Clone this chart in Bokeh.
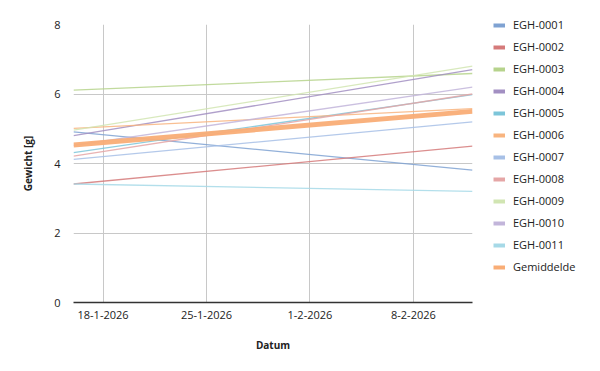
from datetime import datetime
from bokeh.plotting import figure
from bokeh.models import Range1d, FixedTicker, Legend, LegendItem
from bokeh.embed import file_html
from bokeh.resources import INLINE

# ---- data ----
dates = [datetime(2026, 1, 16), datetime(2026, 2, 12)]
series_names = ["EGH-0001", "EGH-0002", "EGH-0003", "EGH-0004", "EGH-0005", "EGH-0006",
                "EGH-0007", "EGH-0008", "EGH-0009", "EGH-0010", "EGH-0011"]
egh_0001 = [4.91, 3.81]
egh_0002 = [3.41, 4.50]
egh_0003 = [6.11, 6.59]
egh_0004 = [4.80, 6.70]
egh_0005 = [4.31, 5.98]
egh_0006 = [5.01, 5.58]
egh_0007 = [4.12, 5.20]
egh_0008 = [4.21, 6.00]
egh_0009 = [4.96, 6.80]
egh_0010 = [4.52, 6.20]
egh_0011 = [3.41, 3.20]
gemiddelde = [4.53, 5.50]

tick_dates = [datetime(2026, 1, 18), datetime(2026, 1, 25), datetime(2026, 2, 1), datetime(2026, 2, 8)]
tick_labels = ["18-1-2026", "25-1-2026", "1-2-2026", "8-2-2026"]
y_ticks = [0, 2, 4, 6, 8]

all_series = [egh_0001, egh_0002, egh_0003, egh_0004, egh_0005, egh_0006,
              egh_0007, egh_0008, egh_0009, egh_0010, egh_0011]
colors = ["#7fa2d2", "#d57a7a", "#b6d38c", "#a28fc2", "#7cc5d9", "#f8b47f",
          "#a7c0e6", "#e5a6a6", "#d1e5b2", "#c2b5da", "#a6d9e7"]
avg_color = "#f9ad76"

FONT = "Open Sans"

def ms(d):
    return (d - datetime(1970, 1, 1)).total_seconds() * 1000.0

p = figure(x_axis_type="datetime", output_backend="svg", toolbar_location=None,
           frame_width=399, frame_height=278,
           min_border_left=73, min_border_right=120, min_border_top=24, min_border_bottom=60,
           x_range=Range1d(dates[0], dates[-1]), y_range=Range1d(0, 8))
p.outline_line_color = None
p.background_fill_color = "white"

items = []
for name, vals, col in zip(series_names, all_series, colors):
    p.line(dates, vals, line_color=col, line_width=1.3, line_alpha=0.85)
    dummy = p.line([dates[0]], [float("nan")], line_color=col, line_width=4)
    items.append(LegendItem(label=name, renderers=[dummy]))
p.line(dates, gemiddelde, line_color=avg_color, line_width=5, line_alpha=0.95)
dummy = p.line([dates[0]], [float("nan")], line_color=avg_color, line_width=4)
items.append(LegendItem(label="Gemiddelde", renderers=[dummy]))

# axes
p.xaxis.ticker = FixedTicker(ticks=[ms(d) for d in tick_dates])
p.xaxis.major_label_overrides = {ms(d): lab for d, lab in zip(tick_dates, tick_labels)}
p.yaxis.ticker = FixedTicker(ticks=y_ticks)
for ax in (p.xaxis, p.yaxis):
    ax.major_tick_line_color = None
    ax.minor_tick_line_color = None
    ax.major_label_text_font = FONT
    ax.major_label_text_font_size = "11px"
    ax.major_label_text_color = "#222222"
    ax.axis_label_text_font = FONT
    ax.axis_label_text_font_size = "10px"
    ax.axis_label_text_font_style = "bold"
    ax.axis_label_text_color = "#222222"
p.yaxis.axis_line_color = None
p.xaxis.axis_line_color = "#333333"
p.xaxis.axis_line_width = 1.5
p.xaxis.major_label_standoff = 2
p.yaxis.major_label_standoff = 7
p.xaxis.axis_label = "Datum"
p.yaxis.axis_label = "Gewicht [g]"
p.xaxis.axis_label_standoff = 16
p.yaxis.axis_label_standoff = 16

p.xgrid.grid_line_color = "#c8c8c8"
p.ygrid.grid_line_color = "#c8c8c8"
p.xgrid.ticker = p.xaxis.ticker
p.ygrid.ticker = p.yaxis.ticker

legend = Legend(items=items, location=(21, 28), padding=0, margin=0, spacing=7,
                glyph_width=12, glyph_height=12, label_height=12, label_standoff=8,
                label_text_font=FONT, label_text_font_size="11px", label_text_color="#222222",
                border_line_color=None, background_fill_alpha=0)
p.add_layout(legend, "right")

open("out.html", "w").write(file_html(p, INLINE))
